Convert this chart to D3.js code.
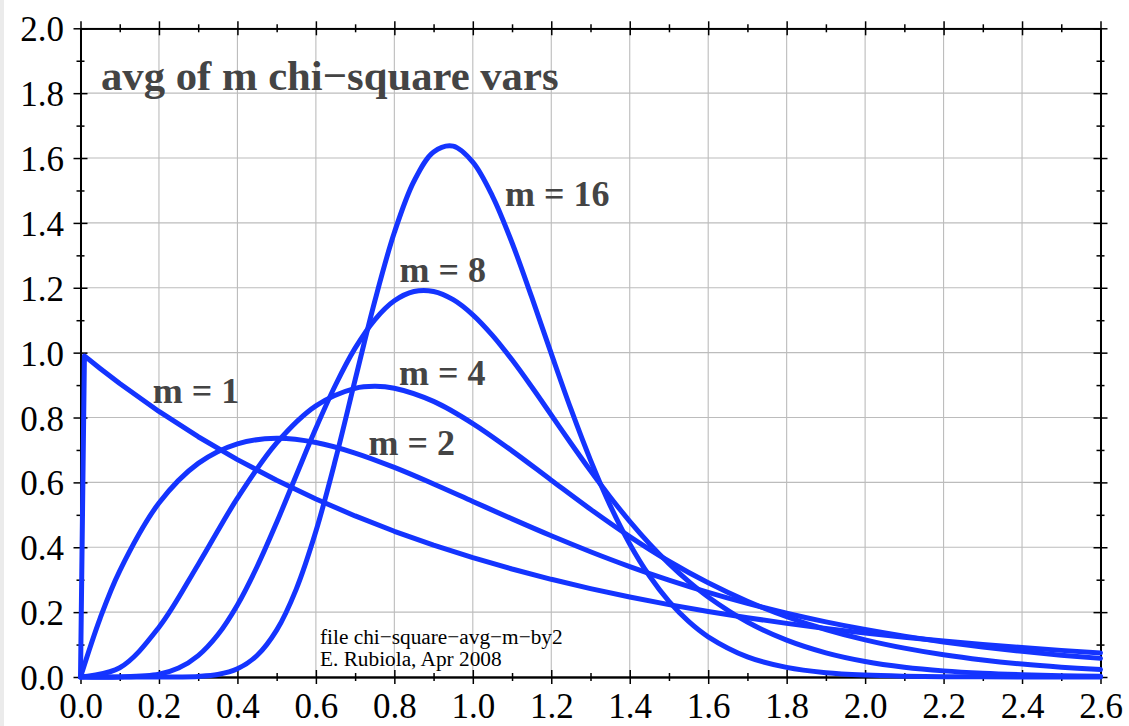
<!DOCTYPE html>
<html>
<head>
<meta charset="utf-8">
<script src="https://cdn.jsdelivr.net/npm/d3@7"></script>
<style>
  html, body { margin: 0; padding: 0; background: #fff; }
  svg { display: block; }
</style>
</head>
<body>
<svg id="chart" width="1129" height="726"></svg>
<script>
// ---------- data ----------
const m1X = [0, 0.01, 0.05, 0.1, 0.2, 0.3, 0.4, 0.5, 0.6, 0.7, 0.8, 0.9, 1.0, 1.1, 1.2, 1.3, 1.4, 1.5, 1.6, 1.7, 1.8, 1.9, 2.0, 2.1, 2.2, 2.3, 2.4, 2.5, 2.6];
const m1Y = [0, 0.990, 0.9512, 0.9048, 0.8187, 0.7408, 0.6703, 0.6065, 0.5488, 0.4966, 0.4493, 0.4066, 0.3679, 0.3329, 0.3012, 0.2725, 0.2466, 0.2231, 0.2019, 0.1827, 0.1653, 0.1496, 0.1353, 0.1225, 0.1108, 0.1003, 0.0907, 0.0821, 0.0743];

const m2X = [0, 0.05, 0.1, 0.2, 0.3, 0.4, 0.5, 0.6, 0.7, 0.8, 0.9, 1.0, 1.1, 1.2, 1.3, 1.4, 1.5, 1.6, 1.7, 1.8, 1.9, 2.0, 2.1, 2.2, 2.3, 2.4, 2.5, 2.6];
const m2Y = [0, 0.1810, 0.3275, 0.5363, 0.6586, 0.7189, 0.7358, 0.7229, 0.6905, 0.6461, 0.5951, 0.5413, 0.4875, 0.4354, 0.3863, 0.3405, 0.2987, 0.2609, 0.2269, 0.1967, 0.1700, 0.1465, 0.1260, 0.1081, 0.0925, 0.0790, 0.0674, 0.0574];

const m4X = [0, 0.1, 0.2, 0.3, 0.4, 0.5, 0.6, 0.7, 0.75, 0.8, 0.9, 1.0, 1.1, 1.2, 1.3, 1.4, 1.5, 1.6, 1.7, 1.8, 1.9, 2.0, 2.1, 2.2, 2.3, 2.4, 2.5, 2.6];
const m4Y = [0, 0.0286, 0.1534, 0.3470, 0.5513, 0.7218, 0.8361, 0.8899, 0.8962, 0.8904, 0.8498, 0.7815, 0.6972, 0.6068, 0.5171, 0.4330, 0.3569, 0.2904, 0.2335, 0.1858, 0.1465, 0.1145, 0.0889, 0.0685, 0.0525, 0.0399, 0.0303, 0.0228];

const m8X = [0, 0.1, 0.2, 0.25, 0.3, 0.35, 0.4, 0.45, 0.5, 0.55, 0.6, 0.65, 0.7, 0.75, 0.8, 0.85, 0.9, 0.95, 1.0, 1.05, 1.1, 1.15, 1.2, 1.25, 1.3, 1.35, 1.4, 1.45, 1.5, 1.55, 1.6, 1.7, 1.8, 1.9, 2.0, 2.1, 2.2, 2.3, 2.4, 2.5, 2.6];
const m8Y = [0, 0.0001, 0.0086, 0.0275, 0.0660, 0.1302, 0.2223, 0.3399, 0.4763, 0.6222, 0.7669, 0.9002, 1.0138, 1.1014, 1.1600, 1.1886, 1.1887, 1.1634, 1.1167, 1.0533, 0.9778, 0.8947, 0.8079, 0.7206, 0.6357, 0.5550, 0.4799, 0.4112, 0.3495, 0.2947, 0.2467, 0.1694, 0.1136, 0.0745, 0.0479, 0.0303, 0.0189, 0.0116, 0.0070, 0.0042, 0.0025];

const m16X = [0, 0.1, 0.2, 0.25, 0.3, 0.35, 0.4, 0.45, 0.5, 0.55, 0.6, 0.65, 0.7, 0.75, 0.8, 0.85, 0.9, 0.95, 1.0, 1.05, 1.1, 1.15, 1.2, 1.25, 1.3, 1.35, 1.4, 1.45, 1.5, 1.55, 1.6, 1.7, 1.8, 1.9, 2.0, 2.1, 2.2, 2.3, 2.4, 2.5, 2.6];
const m16Y = [0, 0, 0.0000, 0.0002, 0.0017, 0.0076, 0.0252, 0.0662, 0.1444, 0.2711, 0.4491, 0.6706, 0.9158, 1.1582, 1.3703, 1.5285, 1.6188, 1.6367, 1.5874, 1.4829, 1.3388, 1.1717, 0.9969, 0.8263, 0.6687, 0.5292, 0.4103, 0.3121, 0.2332, 0.1713, 0.1240, 0.0621, 0.0296, 0.0134, 0.0059, 0.0025, 0.0010, 0.0004, 0.0002, 0.0001, 0.0000];

const seriesNames = ["m = 1", "m = 2", "m = 4", "m = 8", "m = 16"];
// label anchors in data units (x, y of text baseline start)
const labelX = [0.184, 0.734, 0.812, 0.813, 1.082];
const labelY = [0.846, 0.684, 0.900, 1.217, 1.453];

const xTicks = [0, 0.2, 0.4, 0.6, 0.8, 1.0, 1.2, 1.4, 1.6, 1.8, 2.0, 2.2, 2.4, 2.6];
const xMinor = [0.1, 0.3, 0.5, 0.7, 0.9, 1.1, 1.3, 1.5, 1.7, 1.9, 2.1, 2.3, 2.5];
const yTicks = [0, 0.2, 0.4, 0.6, 0.8, 1.0, 1.2, 1.4, 1.6, 1.8, 2.0];
const yMinor = [0.1, 0.3, 0.5, 0.7, 0.9, 1.1, 1.3, 1.5, 1.7, 1.9];

const titleText = "avg of m chi\u2212square vars";
const noteLines = ["file chi\u2212square\u2212avg\u2212m\u2212by2", "E. Rubiola, Apr 2008"];

// ---------- drawing ----------
const svg = d3.select("#chart");
const L = 80.5, R = 1100.5, T = 28.3, B = 677;
const x = d3.scaleLinear().domain([0, 2.6]).range([L, R]);
const y = d3.scaleLinear().domain([0, 2.0]).range([B, T]);
const serif = "'Liberation Serif', 'Times New Roman', Times, serif";
const blue = "#1434ff";

svg.append("rect").attr("x", 0).attr("y", 0).attr("width", 4).attr("height", 726).attr("fill", "#ebebeb");

// grid
const grid = svg.append("g").attr("stroke", "#bcbcbc").attr("stroke-width", 1.1);
grid.selectAll(".gx").data(xTicks).join("line")
  .attr("x1", d => x(d)).attr("x2", d => x(d)).attr("y1", T).attr("y2", B);
grid.selectAll(".gy").data(yTicks).join("line")
  .attr("y1", d => y(d)).attr("y2", d => y(d)).attr("x1", L).attr("x2", R);

function styleAxis(g) {
  g.select(".domain").attr("stroke", "#000").attr("stroke-width", 1.6);
  g.selectAll(".tick line").attr("stroke", "#000").attr("stroke-width", 1.5);
  g.attr("font-family", serif);
}

function addAxis(axisFn, scale, ticks, size, transform, labels) {
  const a = axisFn(scale).tickValues(ticks).tickSize(size).tickSizeOuter(0);
  if (!labels) a.tickFormat("");
  const g = svg.append("g").attr("transform", transform).call(a);
  styleAxis(g);
  return g;
}

// bottom
const gb = addAxis(d3.axisBottom, x, xTicks, 7, `translate(0,${B})`, true);
gb.selectAll(".tick text").attr("y", 41).attr("dy", null)
  .attr("font-size", 35).attr("fill", "#000").text(d => d3.format(".1f")(d));
addAxis(d3.axisTop, x, xTicks, 7, `translate(0,${B})`, false);
addAxis(d3.axisBottom, x, xMinor, 4, `translate(0,${B})`, false);
addAxis(d3.axisTop, x, xMinor, 4, `translate(0,${B})`, false);
// top
addAxis(d3.axisTop, x, xTicks, 7, `translate(0,${T})`, false);
addAxis(d3.axisBottom, x, xTicks, 7, `translate(0,${T})`, false);
addAxis(d3.axisTop, x, xMinor, 4, `translate(0,${T})`, false);
addAxis(d3.axisBottom, x, xMinor, 4, `translate(0,${T})`, false);
// left
const gl = addAxis(d3.axisLeft, y, yTicks, 7, `translate(${L},0)`, true);
gl.selectAll(".tick text").attr("x", -16.5).attr("dy", "0.36em")
  .attr("font-size", 35).attr("fill", "#000").text(d => d3.format(".1f")(d));
addAxis(d3.axisRight, y, yTicks, 7, `translate(${L},0)`, false);
addAxis(d3.axisLeft, y, yMinor, 4, `translate(${L},0)`, false);
addAxis(d3.axisRight, y, yMinor, 4, `translate(${L},0)`, false);
// right
addAxis(d3.axisLeft, y, yTicks, 7, `translate(${R},0)`, false);
addAxis(d3.axisRight, y, yTicks, 7, `translate(${R},0)`, false);
addAxis(d3.axisLeft, y, yMinor, 4, `translate(${R},0)`, false);
addAxis(d3.axisRight, y, yMinor, 4, `translate(${R},0)`, false);

// title
svg.append("text").attr("x", 101).attr("y", 89.5)
  .attr("font-family", serif).attr("font-weight", "bold").attr("font-size", 42.7)
  .attr("fill", "#444").text(titleText);

// footnote
svg.selectAll(".note").data(noteLines).join("text")
  .attr("x", 320).attr("y", (d, i) => 644 + i * 21.7)
  .attr("font-family", serif).attr("font-size", 21.3).attr("fill", "#000")
  .text(d => d);

// curves (m = 1 is nearly straight and has a sharp corner at 0: linear; others smooth)
const series = [[m1X, m1Y], [m2X, m2Y], [m4X, m4Y], [m8X, m8Y], [m16X, m16Y]];
const lineLinear = d3.line().x(d => x(d[0])).y(d => y(d[1])).curve(d3.curveLinear);
const lineSmooth = d3.line().x(d => x(d[0])).y(d => y(d[1])).curve(d3.curveCatmullRom.alpha(0.5));
svg.append("g").selectAll("path").data(series).join("path")
  .attr("d", (s, i) => (i === 0 ? lineLinear : lineSmooth)(s[0].map((v, j) => [v, s[1][j]])))
  .attr("fill", "none").attr("stroke", blue).attr("stroke-width", 5)
  .attr("stroke-linejoin", "round").attr("stroke-linecap", "round");

// series labels
svg.selectAll(".lab").data(seriesNames).join("text")
  .attr("x", (d, i) => x(labelX[i])).attr("y", (d, i) => y(labelY[i]))
  .attr("font-family", serif).attr("font-weight", "bold").attr("font-size", 36)
  .attr("fill", "#444").text(d => d);
</script>
</body>
</html>
